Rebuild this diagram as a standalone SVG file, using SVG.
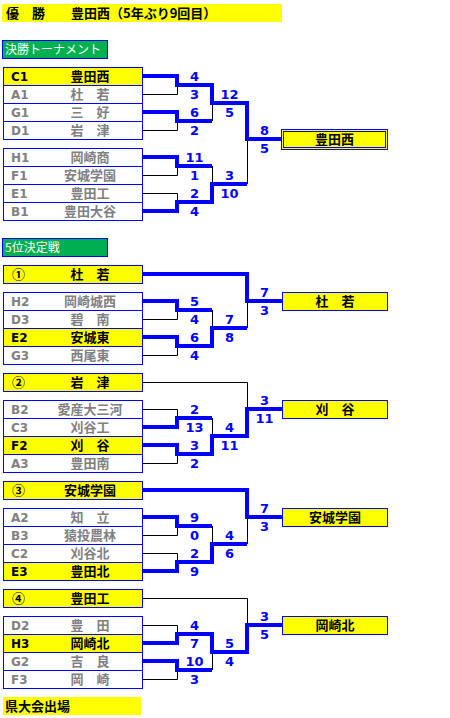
<svg xmlns="http://www.w3.org/2000/svg" width="450" height="718" viewBox="0 0 450 718">
<style>
.row{fill:#fff;stroke:#00f;stroke-width:1}
.y{fill:#ff0}
.code{font-family:"DejaVu Sans",sans-serif;font-weight:bold;font-size:12px;fill:#808080}
.nm{font-family:"Noto Sans CJK JP",sans-serif;font-weight:bold;font-size:13px;fill:#808080;text-anchor:middle}
.k{fill:#000}
.sc{font-family:"DejaVu Sans",sans-serif;font-weight:bold;font-size:13px;fill:#00f;text-anchor:middle}
.thin{fill:none;stroke:#000;stroke-width:1}
.thick{fill:none;stroke:#00f;stroke-width:4;stroke-linejoin:miter}
.hd{font-family:"Noto Sans CJK JP",sans-serif;font-weight:bold;font-size:13px;fill:#000}
.gh{font-family:"Noto Sans CJK JP",sans-serif;font-size:12px;fill:#fff}
.gbox{fill:#00b050;stroke:#00f;stroke-width:1}
</style>
<rect width="450" height="718" fill="#fff"/>
<g id="title">
<rect x="2" y="4" width="280" height="18" fill="#ff0"/>
<text class="hd" x="6" y="18" xml:space="preserve">優　勝　　豊田西（5年ぶり9回目）</text>
</g>
<g id="head-final">
<rect class="gbox" x="2.5" y="40.5" width="105" height="18"/>
<text class="gh" x="5" y="54">決勝トーナメント</text>
</g>
<g id="connectors">
<path class="thin" d="M143 94.5H177.5V85 M143 130.5H177.5V121 M212.5 121V103 M143 175.5H177.5V166 M143 193.5H177.5V202 M212.5 166V184 M247.5 184V139"/>
<path class="thick" d="M143 76H177V85H212V103H247V139H282 M143 112H177V121H212 M143 157H177V166H212 M143 211H177V202H212V184H247"/>
<path class="thin" d="M143 319.5H177.5V310 M143 355.5H177.5V346 M212.5 310V328 M247.5 328V301"/>
<path class="thick" d="M143 274H247V301H282 M143 301H177V310H212 M143 337H177V346H212V328H247"/>
<path class="thin" d="M143 382.5H247.5V409 M143 409.5H177.5V418 M143 463.5H177.5V454 M212.5 418V436"/>
<path class="thick" d="M143 427H177V418H212 M143 445H177V454H212V436H247V409H282"/>
<path class="thin" d="M143 535.5H177.5V526 M143 553.5H177.5V562 M212.5 526V544 M247.5 544V517"/>
<path class="thick" d="M143 490H247V517H282 M143 517H177V526H212 M143 571H177V562H212V544H247"/>
<path class="thin" d="M143 598.5H247.5V625 M143 625.5H177.5V634 M143 679.5H177.5V670 M212.5 670V652"/>
<path class="thick" d="M143 643H177V634H212V652H247V625H282 M143 661H177V670H212"/>
</g>
<g id="final-group1">
<rect class="row y" x="3.5" y="67.5" width="139" height="18"/>
<rect class="row" x="3.5" y="85.5" width="139" height="18"/>
<rect class="row" x="3.5" y="103.5" width="139" height="18"/>
<rect class="row" x="3.5" y="121.5" width="139" height="18"/>
<text class="code k" x="11" y="81">C1</text><text class="nm k" x="90" y="81">豊田西</text>
<text class="code" x="11" y="99">A1</text><text class="nm" x="90" y="99">杜　若</text>
<text class="code" x="11" y="117">G1</text><text class="nm" x="90" y="117">三　好</text>
<text class="code" x="11" y="135">D1</text><text class="nm" x="90" y="135">岩　津</text>
</g>
<g id="final-group2">
<rect class="row" x="3.5" y="148.5" width="139" height="18"/>
<rect class="row" x="3.5" y="166.5" width="139" height="18"/>
<rect class="row" x="3.5" y="184.5" width="139" height="18"/>
<rect class="row" x="3.5" y="202.5" width="139" height="18"/>
<text class="code" x="11" y="162">H1</text><text class="nm" x="90" y="162">岡崎商</text>
<text class="code" x="11" y="180">F1</text><text class="nm" x="90" y="180">安城学園</text>
<text class="code" x="11" y="198">E1</text><text class="nm" x="90" y="198">豊田工</text>
<text class="code" x="11" y="216">B1</text><text class="nm" x="90" y="216">豊田大谷</text>
</g>
<g id="final-scores">
<text class="sc" x="194.5" y="81">4</text><text class="sc" x="194.5" y="99">3</text>
<text class="sc" x="194.5" y="117">6</text><text class="sc" x="194.5" y="135">2</text>
<text class="sc" x="194.5" y="162">11</text><text class="sc" x="194.5" y="180">1</text>
<text class="sc" x="194.5" y="198">2</text><text class="sc" x="194.5" y="216">4</text>
<text class="sc" x="229.5" y="99">12</text><text class="sc" x="229.5" y="117">5</text>
<text class="sc" x="229.5" y="180">3</text><text class="sc" x="229.5" y="198">10</text>
<text class="sc" x="264.5" y="135">8</text><text class="sc" x="264.5" y="153">5</text>
</g>
<g id="champion">
<rect x="281.5" y="129.5" width="106" height="20" fill="#ff0" stroke="#00f"/>
<rect x="283.5" y="131.5" width="102" height="16" fill="none" stroke="#00f"/>
<text class="nm k" x="334.5" y="144">豊田西</text>
</g>
<g id="head-5th">
<rect class="gbox" x="2.5" y="238.5" width="105" height="18"/>
<text class="gh" x="5" y="252">5位決定戦</text>
</g>
<g id="sec1">
<rect class="row y" x="3.5" y="265.5" width="139" height="18"/>
<text class="nm k" x="18.5" y="279">①</text><text class="nm k" x="90" y="279">杜　若</text>
<rect class="row" x="3.5" y="292.5" width="139" height="18"/>
<rect class="row" x="3.5" y="310.5" width="139" height="18"/>
<rect class="row y" x="3.5" y="328.5" width="139" height="18"/>
<rect class="row" x="3.5" y="346.5" width="139" height="18"/>
<text class="code" x="11" y="306">H2</text><text class="nm" x="90" y="306">岡崎城西</text>
<text class="code" x="11" y="324">D3</text><text class="nm" x="90" y="324">碧　南</text>
<text class="code k" x="11" y="342">E2</text><text class="nm k" x="90" y="342">安城東</text>
<text class="code" x="11" y="360">G3</text><text class="nm" x="90" y="360">西尾東</text>
<text class="sc" x="194.5" y="306">5</text><text class="sc" x="194.5" y="324">4</text>
<text class="sc" x="194.5" y="342">6</text><text class="sc" x="194.5" y="360">4</text>
<text class="sc" x="229.5" y="324">7</text><text class="sc" x="229.5" y="342">8</text>
<text class="sc" x="264.5" y="297">7</text><text class="sc" x="264.5" y="315">3</text>
<rect class="row y" x="282.5" y="292.5" width="105" height="18"/>
<text class="nm k" x="335" y="306">杜　若</text>
</g>
<g id="sec2">
<rect class="row y" x="3.5" y="373.5" width="139" height="18"/>
<text class="nm k" x="18.5" y="387">②</text><text class="nm k" x="90" y="387">岩　津</text>
<rect class="row" x="3.5" y="400.5" width="139" height="18"/>
<rect class="row" x="3.5" y="418.5" width="139" height="18"/>
<rect class="row y" x="3.5" y="436.5" width="139" height="18"/>
<rect class="row" x="3.5" y="454.5" width="139" height="18"/>
<text class="code" x="11" y="414">B2</text><text class="nm" x="90" y="414">愛産大三河</text>
<text class="code" x="11" y="432">C3</text><text class="nm" x="90" y="432">刈谷工</text>
<text class="code k" x="11" y="450">F2</text><text class="nm k" x="90" y="450">刈　谷</text>
<text class="code" x="11" y="468">A3</text><text class="nm" x="90" y="468">豊田南</text>
<text class="sc" x="194.5" y="414">2</text><text class="sc" x="194.5" y="432">13</text>
<text class="sc" x="194.5" y="450">3</text><text class="sc" x="194.5" y="468">2</text>
<text class="sc" x="229.5" y="432">4</text><text class="sc" x="229.5" y="450">11</text>
<text class="sc" x="264.5" y="405">3</text><text class="sc" x="264.5" y="423">11</text>
<rect class="row y" x="282.5" y="400.5" width="105" height="18"/>
<text class="nm k" x="335" y="414">刈　谷</text>
</g>
<g id="sec3">
<rect class="row y" x="3.5" y="481.5" width="139" height="18"/>
<text class="nm k" x="18.5" y="495">③</text><text class="nm k" x="90" y="495">安城学園</text>
<rect class="row" x="3.5" y="508.5" width="139" height="18"/>
<rect class="row" x="3.5" y="526.5" width="139" height="18"/>
<rect class="row" x="3.5" y="544.5" width="139" height="18"/>
<rect class="row y" x="3.5" y="562.5" width="139" height="18"/>
<text class="code" x="11" y="522">A2</text><text class="nm" x="90" y="522">知　立</text>
<text class="code" x="11" y="540">B3</text><text class="nm" x="90" y="540">猿投農林</text>
<text class="code" x="11" y="558">C2</text><text class="nm" x="90" y="558">刈谷北</text>
<text class="code k" x="11" y="576">E3</text><text class="nm k" x="90" y="576">豊田北</text>
<text class="sc" x="194.5" y="522">9</text><text class="sc" x="194.5" y="540">0</text>
<text class="sc" x="194.5" y="558">2</text><text class="sc" x="194.5" y="576">9</text>
<text class="sc" x="229.5" y="540">4</text><text class="sc" x="229.5" y="558">6</text>
<text class="sc" x="264.5" y="513">7</text><text class="sc" x="264.5" y="531">3</text>
<rect class="row y" x="282.5" y="508.5" width="105" height="18"/>
<text class="nm k" x="335" y="522">安城学園</text>
</g>
<g id="sec4">
<rect class="row y" x="3.5" y="589.5" width="139" height="18"/>
<text class="nm k" x="18.5" y="603">④</text><text class="nm k" x="90" y="603">豊田工</text>
<rect class="row" x="3.5" y="616.5" width="139" height="18"/>
<rect class="row y" x="3.5" y="634.5" width="139" height="18"/>
<rect class="row" x="3.5" y="652.5" width="139" height="18"/>
<rect class="row" x="3.5" y="670.5" width="139" height="18"/>
<text class="code" x="11" y="630">D2</text><text class="nm" x="90" y="630">豊　田</text>
<text class="code k" x="11" y="648">H3</text><text class="nm k" x="90" y="648">岡崎北</text>
<text class="code" x="11" y="666">G2</text><text class="nm" x="90" y="666">吉　良</text>
<text class="code" x="11" y="684">F3</text><text class="nm" x="90" y="684">岡　崎</text>
<text class="sc" x="194.5" y="630">4</text><text class="sc" x="194.5" y="648">7</text>
<text class="sc" x="194.5" y="666">10</text><text class="sc" x="194.5" y="684">3</text>
<text class="sc" x="229.5" y="648">5</text><text class="sc" x="229.5" y="666">4</text>
<text class="sc" x="264.5" y="621">3</text><text class="sc" x="264.5" y="639">5</text>
<rect class="row y" x="282.5" y="616.5" width="105" height="18"/>
<text class="nm k" x="335" y="630">岡崎北</text>
</g>
<g id="legend">
<rect x="3" y="697" width="138" height="18" fill="#ff0"/>
<text class="hd" x="5" y="711">県大会出場</text>
</g>
</svg>
